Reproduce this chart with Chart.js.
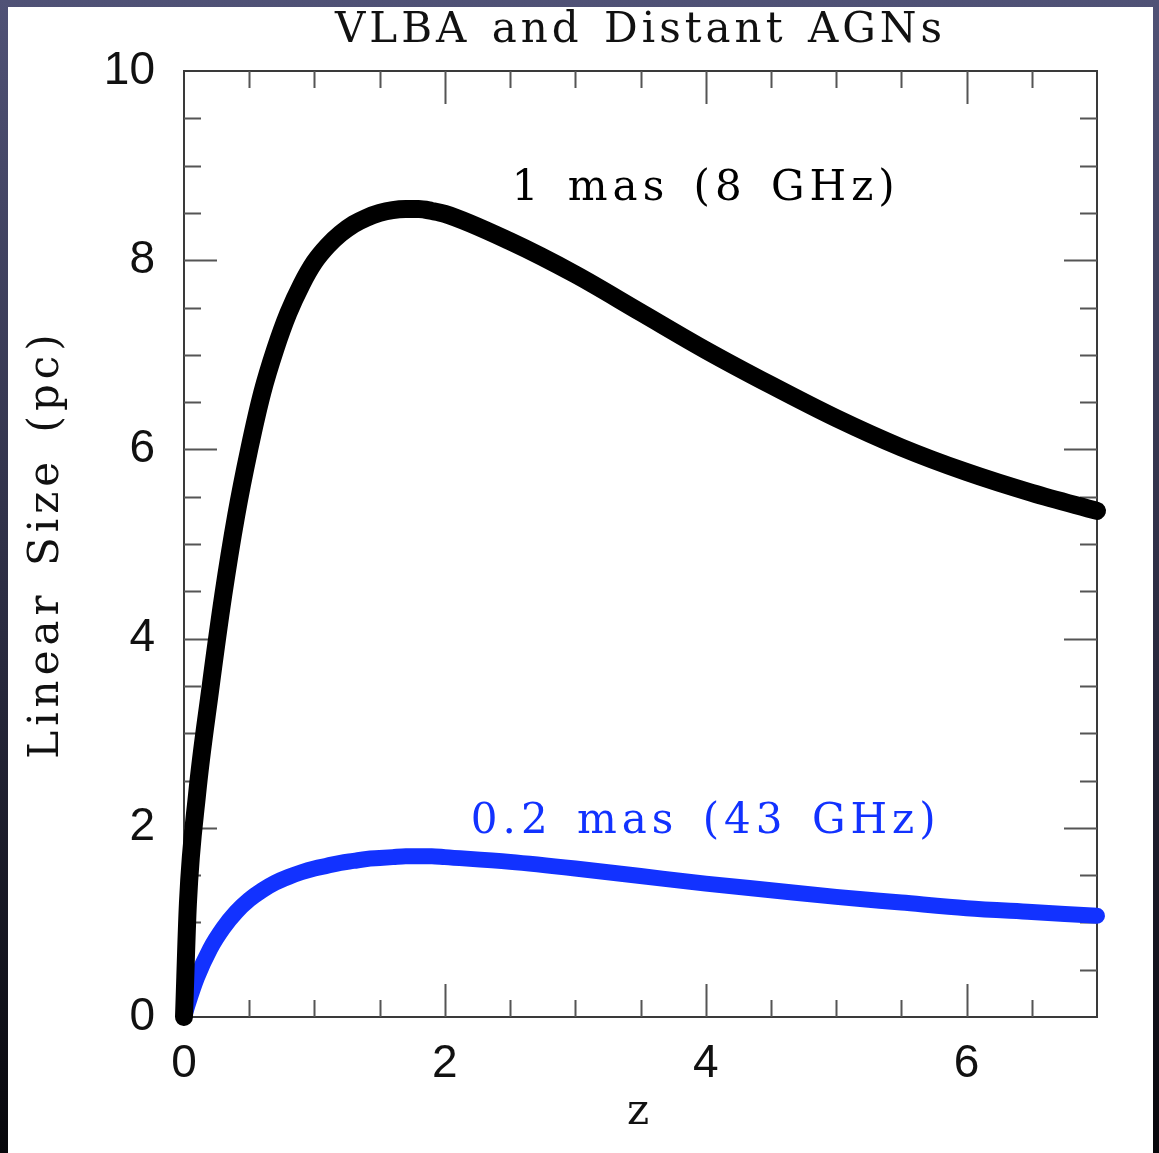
<!DOCTYPE html>
<html>
<head>
<meta charset="utf-8">
<script src="https://cdn.jsdelivr.net/npm/chart.js@4.4.1/dist/chart.umd.min.js"></script>
<style>
  html, body { margin: 0; padding: 0; }
  body {
    width: 1159px; height: 1153px; overflow: hidden; position: relative;
    background: linear-gradient(#505276, #2a2b40 55%, #07070b);
  }
  #panel { position: absolute; left: 8px; top: 7px; width: 1145px; height: 1146px; background: #fff; }
  #wrap { position: absolute; left: 0; top: 0; width: 1159px; height: 1153px; }
</style>
</head>
<body>
<div id="panel"></div>
<div id="wrap"><canvas id="myChart" width="1159" height="1153"></canvas></div>
<script>
const ctx = document.getElementById("myChart").getContext("2d");

// redshift samples and linear size (pc)
const zValues = [0, 0.03, 0.1, 0.2, 0.3, 0.4, 0.5, 0.6, 0.7, 0.8, 0.9, 1.0, 1.1, 1.2, 1.3, 1.4, 1.5, 1.6, 1.7, 1.8, 1.9, 2.0, 2.5, 3.0, 3.5, 4.0, 4.5, 5.0, 5.5, 6.0, 6.5, 7.0];
const size8GHz = [0, 1.2, 2.35, 3.45, 4.45, 5.3, 6.0, 6.6, 7.06, 7.44, 7.74, 7.98, 8.15, 8.28, 8.38, 8.45, 8.5, 8.53, 8.54, 8.54, 8.52, 8.49, 8.2, 7.85, 7.45, 7.05, 6.68, 6.33, 6.02, 5.76, 5.54, 5.35];
const size43GHz = [0, 0.14, 0.42, 0.72, 0.94, 1.11, 1.24, 1.34, 1.42, 1.48, 1.53, 1.57, 1.6, 1.63, 1.65, 1.67, 1.68, 1.69, 1.7, 1.7, 1.7, 1.69, 1.64, 1.57, 1.49, 1.41, 1.34, 1.27, 1.21, 1.15, 1.11, 1.07];

const curveLabels = ["1 mas (8 GHz)", "0.2 mas (43 GHz)"];
const curveColors = ["#000000", "#1232ff"];
const xTicks = [0, 2, 4, 6];
const yTicks = [0, 2, 4, 6, 8, 10];

const serif = "'DejaVu Serif', serif";

const toPoints = (ys) => zValues.map((z, i) => ({ x: z, y: ys[i] }));

// frame with inward ticks on all four sides
const framePlugin = {
  id: "frame",
  beforeDatasetsDraw(chart) {
    const { ctx, chartArea: a, scales } = chart;
    const xs = scales.x, ys = scales.y;
    ctx.save();
    ctx.strokeStyle = "#3a3a3a";
    ctx.lineWidth = 2;
    ctx.strokeRect(a.left, a.top, a.right - a.left, a.bottom - a.top);
    ctx.strokeStyle = "#555";
    ctx.beginPath();
    for (let v = 0.5; v < 7; v += 0.5) {
      const len = v % 2 === 0 ? 33 : 17;
      const px = Math.round(xs.getPixelForValue(v)) + 0.5;
      ctx.moveTo(px, a.bottom); ctx.lineTo(px, a.bottom - len);
      ctx.moveTo(px, a.top); ctx.lineTo(px, a.top + len);
    }
    for (let v = 0.5; v < 10; v += 0.5) {
      const len = v % 2 === 0 ? 33 : 17;
      const py = Math.round(ys.getPixelForValue(v)) + 0.5;
      ctx.moveTo(a.left, py); ctx.lineTo(a.left + len, py);
      ctx.moveTo(a.right, py); ctx.lineTo(a.right - len, py);
    }
    ctx.stroke();
    ctx.restore();
  },
  afterDraw(chart) {
    const { ctx, chartArea: a, scales } = chart;
    const cx = (a.left + a.right) / 2;
    ctx.save();
    ctx.fillStyle = "#111";
    ctx.textAlign = "center";
    ctx.textBaseline = "alphabetic";
    ctx.font = "42px " + serif;
    ctx.letterSpacing = "4px";
    ctx.wordSpacing = "4px";
    ctx.fillText("VLBA and Distant AGNs", cx, 42);
    ctx.letterSpacing = "5px";
    ctx.wordSpacing = "6px";
    ctx.fillText("z", cx, 1124);
    // curve labels
    ctx.fillStyle = curveColors[0];
    ctx.fillText(curveLabels[0], scales.x.getPixelForValue(4.0), scales.y.getPixelForValue(8.64));
    ctx.fillStyle = curveColors[1];
    ctx.fillText(curveLabels[1], scales.x.getPixelForValue(4.0), scales.y.getPixelForValue(1.94));
    // y axis title
    ctx.fillStyle = "#111";
    ctx.translate(58, (a.top + a.bottom) / 2);
    ctx.rotate(-Math.PI / 2);
    ctx.fillText("Linear Size (pc)", 0, 0);
    ctx.restore();
  },
};

const data = {
  datasets: [
    {
      label: curveLabels[0],
      data: toPoints(size8GHz),
      borderColor: curveColors[0],
      borderWidth: 18,
    },
    {
      label: curveLabels[1],
      data: toPoints(size43GHz),
      borderColor: curveColors[1],
      borderWidth: 16,
    },
  ],
};

const config = {
  type: "line",
  data: data,
  options: {
    responsive: false,
    animation: false,
    datasets: {
      line: {
        pointRadius: 0,
        cubicInterpolationMode: "monotone",
        borderCapStyle: "round",
        borderJoinStyle: "round",
        clip: false,
      },
    },
    layout: { padding: { top: 71, right: 62, left: 0, bottom: 0 } },
    plugins: {
      legend: { display: false },
      tooltip: { enabled: false },
    },
    scales: {
      x: {
        type: "linear",
        min: 0,
        max: 7,
        afterFit: (scale) => { scale.height = 136; },
        grid: { display: false, drawTicks: false },
        border: { display: false },
        afterBuildTicks: (scale) => { scale.ticks = xTicks.map((v) => ({ value: v })); },
        ticks: {
          padding: 20,
          color: "#111",
          font: { family: "'Liberation Sans', sans-serif", size: 46 },
          callback: (value) => "" + value,
        },
      },
      y: {
        type: "linear",
        min: 0,
        max: 10,
        afterFit: (scale) => { scale.width = 184; },
        grid: { display: false, drawTicks: false },
        border: { display: false },
        afterBuildTicks: (scale) => { scale.ticks = yTicks.map((v) => ({ value: v })); },
        ticks: {
          padding: 29,
          color: "#111",
          font: { family: "'Liberation Sans', sans-serif", size: 46 },
          callback: (value) => "" + value,
        },
      },
    },
  },
  plugins: [framePlugin],
};

const myChart = new Chart(ctx, config);
</script>
</body>
</html>
